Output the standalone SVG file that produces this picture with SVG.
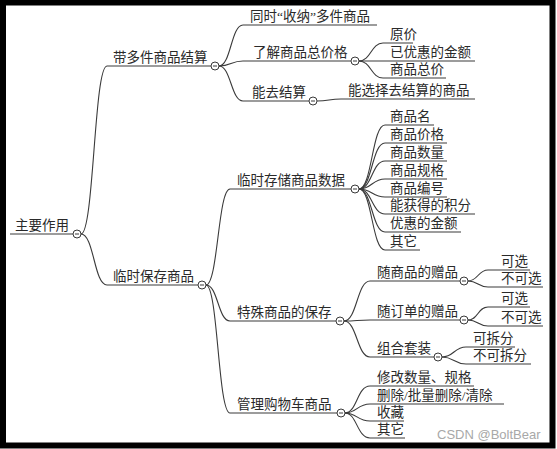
<svg xmlns="http://www.w3.org/2000/svg" width="557" height="449" viewBox="0 0 557 449">
<style>
  text { font-family: "Liberation Serif", "Noto Sans CJK SC", sans-serif; font-size: 13.5px; fill: #2a2a2a; }
  .wm { font-family: "Liberation Sans", Arial, sans-serif; font-size: 13px; fill: #a8a8a8; }
  .ln { fill: none; stroke: #3a3a3a; stroke-width: 1.1; }
  .tg { fill: #fff; stroke: #3a3a3a; stroke-width: 1; }
  .dash { stroke: #3a3a3a; stroke-width: 1; }
</style>
<defs>
  <g id="toggle"><circle class="tg" cx="0" cy="0" r="4"/><line class="dash" x1="-2" y1="0" x2="2" y2="0"/></g>
</defs>
<rect x="0" y="0" width="557" height="449" fill="#fff"/>
<rect x="3" y="2.5" width="549.5" height="443" fill="none" stroke="#000" stroke-width="6"/>

<g id="connectors" class="ln">
  <path d="M10,234 H73"/>
  <path d="M81,234 C94,234 94,66 107,66 H211"/>
  <path d="M81,234 C94,234 94,285 107,285 H198"/>
  <path d="M219,66 C231,66 231,25 243,25 H377"/>
  <path d="M219,66 C231,66 231,61 243,61 H351"/>
  <path d="M219,66 C231,66 231,101 243,101 H309"/>
  <path d="M359,61 C371,61 371,43 383,43 H413"/>
  <path d="M359,61 H475"/>
  <path d="M359,61 C371,61 371,78 383,78 H446"/>
  <path d="M317,101 C329,101 329,99 341,99 H475"/>
  <path d="M206,285 C218,285 218,189 230,189 H351"/>
  <path d="M206,285 C218,285 218,321 230,321 H336"/>
  <path d="M206,285 C218,285 218,413 230,413 H337"/>
  <path d="M359,189 C372,189 372,125 385,125 H434"/>
  <path d="M359,189 C372,189 372,143 385,143 H447"/>
  <path d="M359,189 C372,189 372,161 385,161 H447"/>
  <path d="M359,189 C372,189 372,179 385,179 H447"/>
  <path d="M359,189 C372,189 372,197 385,197 H447"/>
  <path d="M359,189 C372,189 372,214 385,214 H475"/>
  <path d="M359,189 C372,189 372,232 385,232 H461"/>
  <path d="M359,189 C372,189 372,250 385,250 H420"/>
  <path d="M344,321 C357,321 357,281 370,281 H460"/>
  <path d="M344,321 C357,321 357,320 370,320 H460"/>
  <path d="M344,321 C357,321 357,357 370,357 H434"/>
  <path d="M468,281 C478,281 478,270 488,270 H530"/>
  <path d="M468,281 C478,281 478,287 488,287 H543"/>
  <path d="M468,320 C478,320 478,307 488,307 H530"/>
  <path d="M468,320 C478,320 478,326 488,326 H543"/>
  <path d="M442,357 C454,357 454,347 466,347 H515"/>
  <path d="M442,357 C454,357 454,364 466,364 H531"/>
  <path d="M345,413 C357,413 357,386 370,386 H474"/>
  <path d="M345,413 C357,413 357,404 370,404 H504"/>
  <path d="M345,413 C357,413 357,421 370,421 H404"/>
  <path d="M345,413 C357,413 357,438 370,438 H405"/>
</g>

<g id="n-root"><text x="15" y="229.5">主要作用</text><use href="#toggle" x="77" y="234"/></g>
<g id="n-jiesuan"><text x="113" y="61.5">带多件商品结算</text><use href="#toggle" x="215" y="66"/></g>
<g id="n-baocun"><text x="113" y="280.5">临时保存商品</text><use href="#toggle" x="202" y="285"/></g>

<g id="n-shouna"><text x="250" y="20.5">同时“收纳”多件商品</text></g>
<g id="n-zongjia"><text x="253" y="56.5">了解商品总价格</text><use href="#toggle" x="355" y="61"/></g>
<g id="n-nengqu"><text x="252" y="96.5">能去结算</text><use href="#toggle" x="313" y="101"/></g>
<g id="n-yuanjia"><text x="390" y="38.5">原价</text></g>
<g id="n-youhui"><text x="390" y="56.5">已优惠的金额</text></g>
<g id="n-zj2"><text x="390" y="73.5">商品总价</text></g>
<g id="n-xuanze"><text x="348" y="94.5">能选择去结算的商品</text></g>

<g id="n-cunchu"><text x="237" y="184.5">临时存储商品数据</text><use href="#toggle" x="355" y="189"/></g>
<g id="n-teshu"><text x="237" y="316.5">特殊商品的保存</text><use href="#toggle" x="340" y="321"/></g>
<g id="n-guanli"><text x="237" y="408.5">管理购物车商品</text><use href="#toggle" x="341" y="413"/></g>

<g id="n-d1"><text x="390" y="120.5">商品名</text></g>
<g id="n-d2"><text x="390" y="138.5">商品价格</text></g>
<g id="n-d3"><text x="390" y="156.5">商品数量</text></g>
<g id="n-d4"><text x="390" y="174.5">商品规格</text></g>
<g id="n-d5"><text x="390" y="192.5">商品编号</text></g>
<g id="n-d6"><text x="390" y="209.5">能获得的积分</text></g>
<g id="n-d7"><text x="390" y="227.5">优惠的金额</text></g>
<g id="n-d8"><text x="390" y="245.5">其它</text></g>

<g id="n-suishangpin"><text x="377" y="276.5">随商品的赠品</text><use href="#toggle" x="464" y="281"/></g>
<g id="n-suidingdan"><text x="377" y="315.5">随订单的赠品</text><use href="#toggle" x="464" y="320"/></g>
<g id="n-zuhe"><text x="377" y="352.5">组合套装</text><use href="#toggle" x="438" y="357"/></g>
<g id="n-kx1"><text x="501" y="265.5">可选</text></g>
<g id="n-bkx1"><text x="501" y="282.5">不可选</text></g>
<g id="n-kx2"><text x="501" y="302.5">可选</text></g>
<g id="n-bkx2"><text x="501" y="321.5">不可选</text></g>
<g id="n-kcf"><text x="473" y="342.5">可拆分</text></g>
<g id="n-bkcf"><text x="473" y="359.5">不可拆分</text></g>

<g id="n-xiugai"><text x="377" y="381.5">修改数量、规格</text></g>
<g id="n-shanchu"><text x="377" y="399.5">删除/批量删除/清除</text></g>
<g id="n-shoucang"><text x="377" y="416.5">收藏</text></g>
<g id="n-qita2"><text x="377" y="433.5">其它</text></g>

<text class="wm" x="437" y="439">CSDN @BoltBear</text>
</svg>
